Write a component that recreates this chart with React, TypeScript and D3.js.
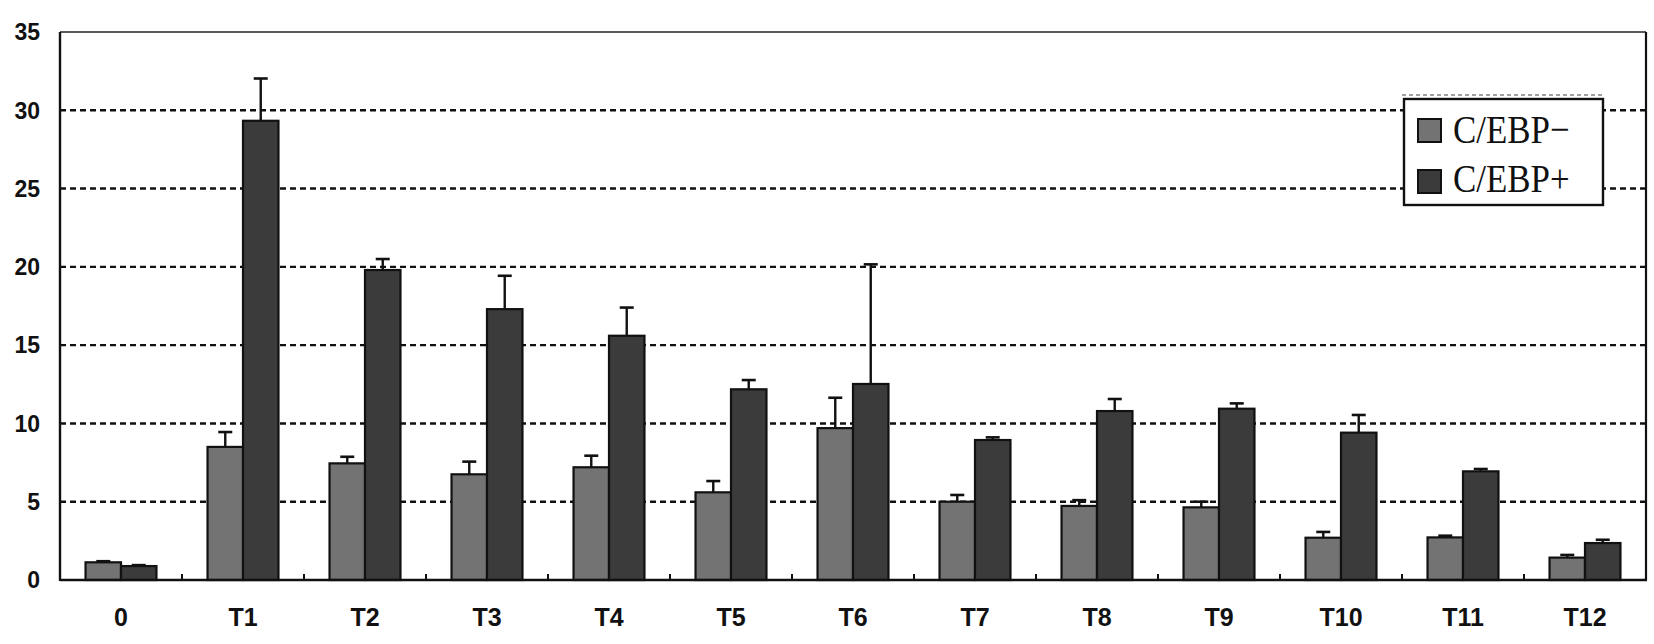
import React from "react";
import * as d3 from "d3";

const categories = ["0", "T1", "T2", "T3", "T4", "T5", "T6", "T7", "T8", "T9", "T10", "T11", "T12"];
const seriesNames = ["C/EBP−", "C/EBP+"];
const negValues = [1.13, 8.5, 7.45, 6.75, 7.2, 5.6, 9.7, 5.0, 4.73, 4.64, 2.7, 2.72, 1.43];
const negErrTop = [1.2, 9.45, 7.87, 7.56, 7.94, 6.32, 11.64, 5.43, 5.1, 5.0, 3.07, 2.83, 1.6];
const posValues = [0.89, 29.33, 19.8, 17.3, 15.6, 12.18, 12.52, 8.94, 10.79, 10.94, 9.41, 6.94, 2.36];
const posErrTop = [0.95, 32.03, 20.5, 19.43, 17.4, 12.77, 20.16, 9.11, 11.56, 11.28, 10.54, 7.09, 2.57];
const yTicks = [0, 5, 10, 15, 20, 25, 30, 35];

const W = 1654;
const H = 644;
const left = 60;
const right = 1646;
const top = 32;
const bottom = 580;
const colors = ["#737373", "#3b3b3b"];

export default function App() {
  const x0 = d3.scaleBand<string>().domain(categories).range([left, right]).padding(0);
  const x1 = d3
    .scaleBand<string>()
    .domain(seriesNames)
    .range([0, x0.bandwidth()])
    .paddingInner(0)
    .paddingOuter(0.72);
  const y = d3.scaleLinear().domain([0, 35]).range([bottom, top]);

  const series = [
    { name: seriesNames[0], values: negValues, err: negErrTop },
    { name: seriesNames[1], values: posValues, err: posErrTop },
  ];

  const font = "Arial, 'Liberation Sans', Helvetica, sans-serif";

  return (
    <div style={{ position: "fixed", left: 0, top: 0, width: W, height: H, background: "#fff" }}>
      <svg width={W} height={H} style={{ display: "block" }}>
        <rect x={0} y={0} width={W} height={H} fill="#fff" />
        {yTicks
          .filter((t) => t > 0 && t < 35)
          .map((t) => (
            <line
              key={"g" + t}
              x1={left}
              x2={right}
              y1={y(t)}
              y2={y(t)}
              stroke="#111"
              strokeWidth={2.4}
              strokeDasharray="6 4"
            />
          ))}
        {series.map((s, si) =>
          categories.map((c, i) => {
            const bx = (x0(c) as number) + (x1(s.name) as number);
            const bw = x1.bandwidth();
            const cx = bx + bw / 2;
            return (
              <g key={s.name + c}>
                <line x1={cx} x2={cx} y1={y(s.values[i])} y2={y(s.err[i])} stroke="#111" strokeWidth={2.4} />
                <line x1={cx - 7} x2={cx + 7} y1={y(s.err[i])} y2={y(s.err[i])} stroke="#111" strokeWidth={2.6} />
                <rect
                  x={bx}
                  y={y(s.values[i])}
                  width={bw}
                  height={bottom - y(s.values[i])}
                  fill={colors[si]}
                  stroke="#111"
                  strokeWidth={2.2}
                />
              </g>
            );
          })
        )}
        <line x1={left} x2={right} y1={top} y2={top} stroke="#222" strokeWidth={1.6} />
        <line x1={right} x2={right} y1={top} y2={bottom} stroke="#111" strokeWidth={2.2} />
        <line x1={left} x2={left} y1={top} y2={bottom + 1} stroke="#111" strokeWidth={2.4} />
        <line x1={left} x2={right + 1} y1={bottom} y2={bottom} stroke="#111" strokeWidth={2.4} />
        {categories.slice(1).map((c) => (
          <line
            key={"t" + c}
            x1={x0(c) as number}
            x2={x0(c) as number}
            y1={bottom}
            y2={bottom - 6}
            stroke="#111"
            strokeWidth={2}
          />
        ))}
        {yTicks.map((t) => (
          <text
            key={"y" + t}
            x={40}
            y={y(t)}
            dy="0.36em"
            textAnchor="end"
            fontFamily={font}
            fontWeight="bold"
            fontSize={23}
            fill="#111"
          >
            {t}
          </text>
        ))}
        {categories.map((c) => (
          <text
            key={"x" + c}
            x={(x0(c) as number) + x0.bandwidth() / 2}
            y={626}
            textAnchor="middle"
            fontFamily={font}
            fontWeight="bold"
            fontSize={25}
            fill="#111"
          >
            {c}
          </text>
        ))}
        <line x1={1402} x2={1604} y1={95} y2={95} stroke="#444" strokeWidth={1} strokeDasharray="4 3" />
        <rect x={1404} y={99} width={199} height={106} fill="#fff" stroke="#111" strokeWidth={2.4} />
        {series.map((s, si) => (
          <g key={"l" + s.name}>
            <rect
              x={1418}
              y={si === 0 ? 119 : 170}
              width={23}
              height={23}
              fill={colors[si]}
              stroke="#111"
              strokeWidth={2}
            />
            <text
              x={1453}
              y={si === 0 ? 143 : 192}
              fontFamily="'Liberation Serif', 'DejaVu Serif', serif"
              fontSize={36}
              fill="#111"
              transform={`translate(1453, ${si === 0 ? 143 : 192}) scale(0.97, 1.12) translate(-1453, ${-(si === 0 ? 143 : 192)})`}
            >
              {s.name}
            </text>
          </g>
        ))}
      </svg>
    </div>
  );
}
